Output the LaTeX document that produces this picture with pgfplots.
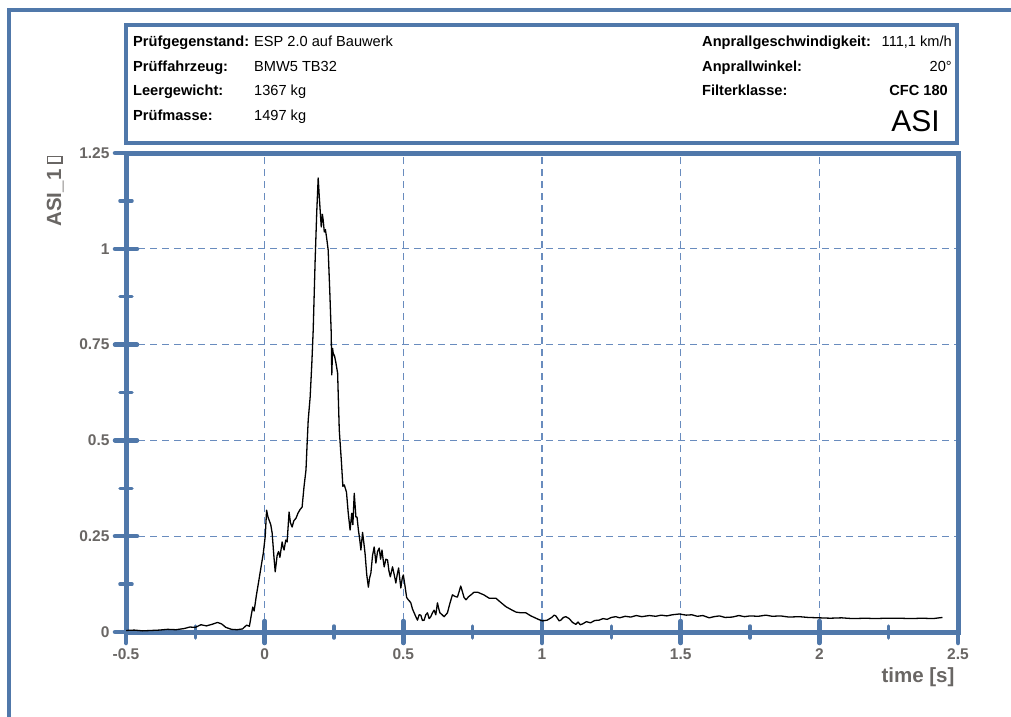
\documentclass[border=0pt]{standalone}
\usepackage{pgfplots}
\pgfplotsset{compat=1.18}
\usepackage{fontspec}
\setmainfont{Liberation Sans}

\definecolor{axisblue}{RGB}{80,120,170}
\definecolor{gridblue}{RGB}{105,140,190}
\definecolor{labgray}{RGB}{105,102,100}

\newcommand{\unitbox}{{\setlength{\fboxsep}{0pt}\setlength{\fboxrule}{1.4pt}\fbox{\rule{0pt}{13pt}\hspace{5pt}}}}

\begin{document}
\begin{tikzpicture}[x=1pt,y=1pt]
\path[use as bounding box] (-126,-84) rectangle (885,632);
% outer frame
\draw[axisblue, line width=4pt] (-117,-90) -- (-117,622) -- (890,622);
% header box
\draw[axisblue, line width=4pt] (0,489) rectangle (831,607);
\begin{scope}[every node/.style={inner sep=0pt, font=\fontsize{14.6}{16}\selectfont}]
\node[anchor=base west] at (7,585) {\bfseries Prüfgegenstand:};
\node[anchor=base west] at (128,585) {ESP 2.0 auf Bauwerk};
\node[anchor=base west] at (7,560) {\bfseries Prüffahrzeug:};
\node[anchor=base west] at (128,560) {BMW5 TB32};
\node[anchor=base west] at (7,536) {\bfseries Leergewicht:};
\node[anchor=base west] at (128,536) {1367 kg};
\node[anchor=base west] at (7,511) {\bfseries Prüfmasse:};
\node[anchor=base west] at (128,511) {1497 kg};
\node[anchor=base west] at (576,585) {\bfseries Anprallgeschwindigkeit:};
\node[anchor=base east] at (826,585) {111,1 km/h};
\node[anchor=base west] at (576,560) {\bfseries Anprallwinkel:};
\node[anchor=base east] at (826,560) {20°};
\node[anchor=base west] at (576,536) {\bfseries Filterklasse:};
\node[anchor=base east] at (822,536) {\bfseries CFC 180};
\node[anchor=base east, font=\fontsize{30}{32}\selectfont] at (814,500) {ASI};
\end{scope}

\begin{axis}[
  at={(0,0)}, anchor=south west,
  scale only axis, width=832pt, height=479pt,
  xmin=-0.5, xmax=2.5, ymin=0, ymax=1.25,
  xtick={-0.5,0,...,2.5}, ytick={0,0.25,...,1.25},
  minor xtick={-0.25,0.25,...,2.25}, minor ytick={0.125,0.375,...,1.125},
  xtick pos=bottom, ytick pos=left,
  tick align=center,
  major tick length=22pt, minor tick length=12pt,
  major tick style={line width=4.5pt, axisblue, line cap=round},
  minor tick style={line width=3.5pt, axisblue, line cap=round},
  axis line style={line width=5pt, axisblue},
  grid=major,
  major grid style={gridblue, line width=1.3pt, dash pattern=on 7pt off 5pt},
  /pgf/number format/assume math mode=true,
  tick label style={font=\fontsize{15.5}{16}\selectfont\bfseries, text=labgray},
  yticklabel style={xshift=-2pt},
  xticklabel style={yshift=-2pt},
  ylabel={ASI\_1 \unitbox},
  ylabel style={at={(axis description cs:-0.085,0.92)}, anchor=center,
    font=\fontsize{20.5}{22}\selectfont\bfseries, text=labgray},
  xlabel={time [s]},
  xlabel style={at={(axis description cs:1,-0.094)}, anchor=east,
    font=\fontsize{20.5}{22}\selectfont\bfseries, text=labgray},
]
\addplot[black, line width=1.3pt, line join=round] coordinates {
(-0.50,0.004) (-0.47,0.005) (-0.44,0.003) (-0.41,0.004) (-0.38,0.005)
(-0.35,0.007) (-0.32,0.006) (-0.29,0.009) (-0.27,0.013) (-0.25,0.012)
(-0.23,0.019) (-0.21,0.016) (-0.19,0.020) (-0.17,0.025) (-0.155,0.021)
(-0.14,0.012) (-0.12,0.007) (-0.10,0.006) (-0.08,0.008) (-0.065,0.018)
(-0.055,0.015) (-0.048,0.045) (-0.043,0.065) (-0.038,0.055) (-0.030,0.095)
(-0.022,0.13) (-0.013,0.17) (-0.005,0.205) (0.002,0.25) (0.007,0.318)
(0.012,0.30) (0.016,0.292) (0.022,0.28) (0.027,0.258) (0.033,0.20)
(0.038,0.157) (0.045,0.20) (0.050,0.21) (0.055,0.195) (0.063,0.235)
(0.067,0.22) (0.070,0.214) (0.076,0.24) (0.081,0.235) (0.088,0.313)
(0.093,0.285) (0.099,0.274) (0.105,0.29) (0.113,0.297) (0.120,0.31)
(0.128,0.32) (0.135,0.326) (0.142,0.38) (0.149,0.423) (0.153,0.49)
(0.157,0.553) (0.164,0.613) (0.170,0.70) (0.175,0.788) (0.182,0.97)
(0.188,1.10) (0.193,1.185) (0.197,1.135) (0.204,1.057) (0.208,1.09)
(0.211,1.075) (0.215,1.044) (0.219,1.05) (0.223,1.031) (0.229,0.997)
(0.235,0.885) (0.240,0.78) (0.242,0.671) (0.245,0.74) (0.247,0.728)
(0.252,0.72) (0.257,0.702) (0.263,0.676) (0.269,0.527) (0.277,0.441)
(0.282,0.38) (0.287,0.384) (0.295,0.365) (0.301,0.313) (0.308,0.266)
(0.314,0.31) (0.318,0.28) (0.323,0.362) (0.329,0.30) (0.333,0.30)
(0.338,0.266) (0.343,0.24) (0.347,0.214) (0.353,0.26) (0.358,0.23)
(0.362,0.205) (0.368,0.15) (0.374,0.117) (0.378,0.14) (0.383,0.154)
(0.389,0.20) (0.395,0.222) (0.401,0.18) (0.407,0.21) (0.413,0.219)
(0.418,0.19) (0.423,0.214) (0.427,0.19) (0.431,0.17) (0.437,0.19)
(0.443,0.188) (0.448,0.16) (0.453,0.144) (0.461,0.17) (0.467,0.15)
(0.473,0.128) (0.478,0.15) (0.483,0.167) (0.487,0.14) (0.491,0.115)
(0.496,0.14) (0.500,0.149) (0.506,0.12) (0.512,0.09) (0.518,0.084)
(0.523,0.08) (0.527,0.076) (0.533,0.06) (0.539,0.05) (0.545,0.04)
(0.551,0.031) (0.557,0.045) (0.563,0.044) (0.569,0.03) (0.575,0.031)
(0.581,0.045) (0.587,0.05) (0.593,0.035) (0.599,0.04) (0.605,0.05)
(0.611,0.057) (0.617,0.045) (0.623,0.076) (0.628,0.06) (0.632,0.05)
(0.640,0.045) (0.647,0.04) (0.653,0.045) (0.659,0.05) (0.668,0.075)
(0.677,0.097) (0.686,0.093) (0.695,0.091) (0.701,0.105) (0.707,0.12)
(0.713,0.105) (0.719,0.09) (0.726,0.084) (0.735,0.092) (0.744,0.097)
(0.755,0.104) (0.767,0.104) (0.774,0.102) (0.790,0.097) (0.810,0.088)
(0.834,0.088) (0.850,0.078) (0.870,0.066) (0.890,0.058) (0.906,0.052)
(0.925,0.05) (0.942,0.05) (0.960,0.042) (0.978,0.036) (0.990,0.032)
(1.002,0.029) (1.019,0.031) (1.035,0.038) (1.044,0.044) (1.050,0.042)
(1.062,0.029) (1.068,0.031) (1.077,0.038) (1.086,0.04) (1.098,0.035)
(1.110,0.025) (1.122,0.02) (1.130,0.026) (1.138,0.019) (1.146,0.021)
(1.160,0.027) (1.175,0.024) (1.190,0.03) (1.206,0.031) (1.22,0.035)
(1.235,0.033) (1.25,0.038) (1.266,0.04) (1.28,0.037) (1.30,0.041)
(1.32,0.039) (1.34,0.043) (1.36,0.040) (1.387,0.043) (1.41,0.041)
(1.43,0.044) (1.45,0.042) (1.47,0.045) (1.495,0.047) (1.52,0.044)
(1.54,0.045) (1.56,0.041) (1.58,0.043) (1.603,0.037) (1.62,0.040)
(1.64,0.042) (1.66,0.038) (1.686,0.039) (1.71,0.043) (1.73,0.040)
(1.75,0.042) (1.78,0.041) (1.807,0.044) (1.83,0.041) (1.86,0.042)
(1.89,0.039) (1.928,0.040) (1.96,0.038) (2.00,0.037) (2.04,0.036)
(2.08,0.037) (2.12,0.035) (2.168,0.036) (2.20,0.035) (2.24,0.036)
(2.288,0.036) (2.33,0.035) (2.37,0.036) (2.41,0.035) (2.444,0.038)
};
\end{axis}
\end{tikzpicture}
\end{document}
